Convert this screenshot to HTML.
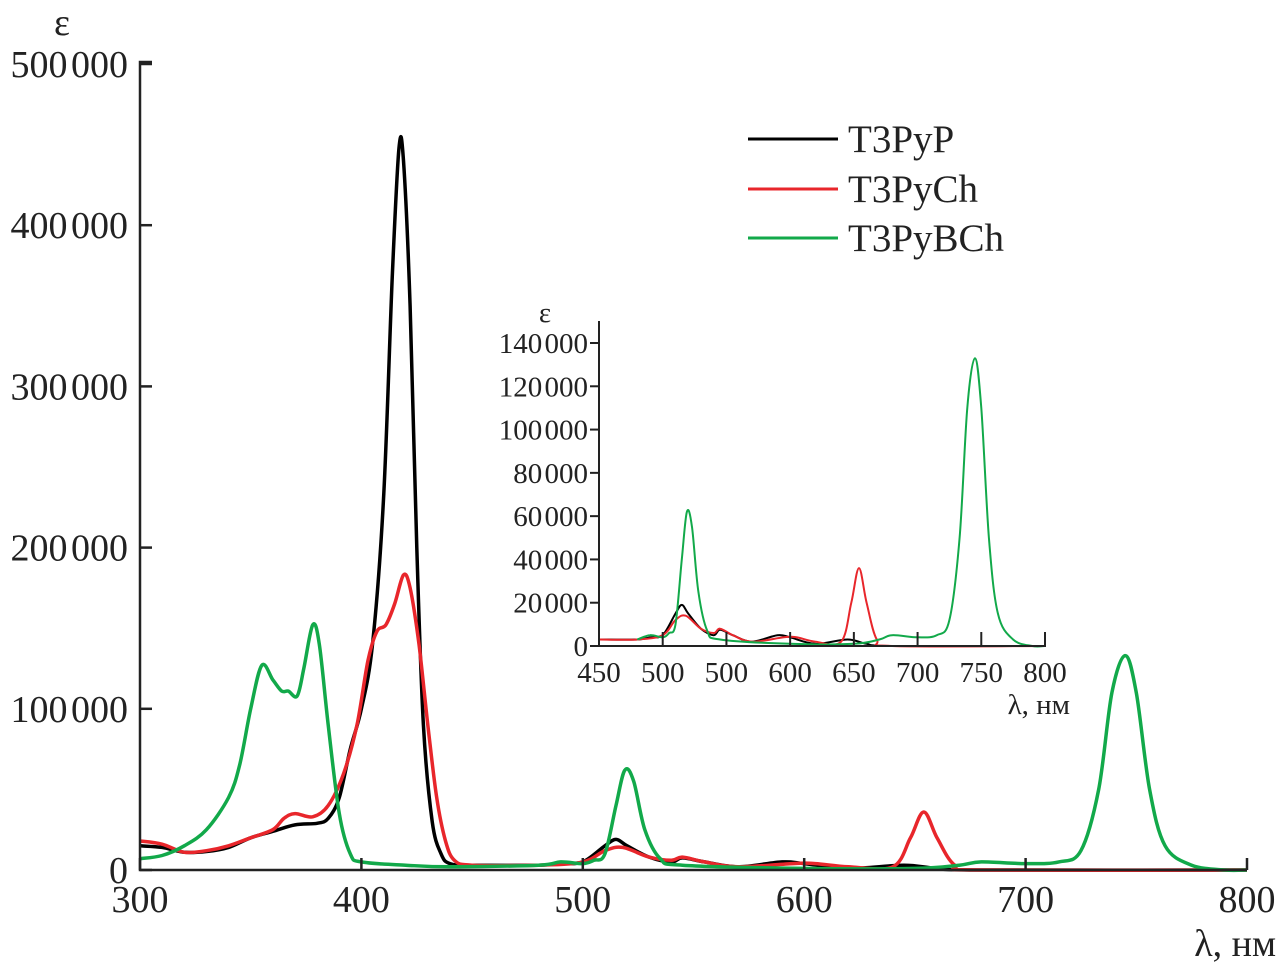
<!DOCTYPE html>
<html><head><meta charset="utf-8"><style>
body{margin:0;background:#fff}
svg{display:block;font-family:"Liberation Serif",serif}
</style></head><body>
<svg width="1278" height="968" viewBox="0 0 1278 968">
<g id="main"></g>
<g id="inset"></g>
<g font-size="39" fill="#222">
<g><line x1="748" y1="139" x2="838" y2="139" stroke="#000" stroke-width="3"/><text x="848" y="152">T3PyP</text></g>
<g><line x1="748" y1="189" x2="838" y2="189" stroke="#e8262b" stroke-width="3"/><text x="848" y="202">T3PyCh</text></g>
<g><line x1="748" y1="238" x2="838" y2="238" stroke="#12a94a" stroke-width="3"/><text x="848" y="251">T3PyBCh</text></g>
</g>
</svg>
<script>
const blackX=[300,310,320,330,340,350,360,370,380,385,390,395,400,405,410,414,417,419,422,425,428,432,436,440,450,480,490,500,510,515,520,530,540,545,555,570,590,600,620,645,660,680,800];
const blackY=[15000,14000,11000,11500,14000,20000,24000,28000,29000,32000,45000,75000,100000,140000,230000,370000,448000,440000,350000,200000,90000,30000,10000,4000,3000,3000,4000,5000,15000,19000,15000,8000,5000,7500,5000,2000,5000,4000,1000,3000,1000,0,0];
const redX=[300,310,320,330,340,350,360,365,370,378,385,392,398,403,407,411,415,419,422,426,430,434,438,442,450,480,500,510,518,530,540,545,555,570,595,605,620,640,648,654,660,668,680,800];
const redY=[18000,16000,11000,12000,15000,20000,25000,32000,35000,33000,40000,60000,90000,130000,148000,152000,165000,183000,175000,140000,90000,45000,18000,6000,3000,3000,5000,12000,14000,8000,6000,8000,5000,2000,4000,4000,2000,2000,20000,36000,20000,3000,0,0];
const greenX=[300,310,320,330,340,345,350,355,360,364,367,371,374,378,381,385,390,395,400,420,440,480,490,500,505,510,515,519,523,528,535,545,600,650,670,680,700,715,725,733,739,745,750,756,763,775,790,800];
const greenY=[7000,9000,15000,25000,45000,65000,100000,127000,118000,111000,111000,108000,125000,152000,140000,90000,35000,10000,5000,3000,2000,3000,5000,4000,6000,10000,40000,62000,55000,25000,7000,3000,1000,1000,3000,5000,4000,5000,12000,50000,110000,133000,110000,50000,15000,3000,0,0];
const mainYTicks=[0,100000,200000,300000,400000,500000];
const mainYLabels=["0","100 000","200 000","300 000","400 000","500 000"];
const mainXTicks=[300,400,500,600,700,800];
const insetYTicks=[0,20000,40000,60000,80000,100000,120000,140000];
const insetYLabels=["0","20 000","40 000","60 000","80 000","100 000","120 000","140 000"];
const insetXTicks=[450,500,550,600,650,700,750,800];
const insetXLabels=["450","500","500","600","650","700","750","800"];

const NS="http://www.w3.org/2000/svg";
function mk(parent,tag,attrs,text){const e=document.createElementNS(NS,tag);for(const k in attrs)e.setAttribute(k,attrs[k]);if(text!==undefined)e.textContent=text;parent.appendChild(e);return e;}
function path(xs,ys,sx,sy,xmin){
  let pts=[];for(let i=0;i<xs.length;i++){if(xs[i]>=xmin)pts.push([sx(xs[i]),sy(ys[i])]);}
  let d="M"+pts[0][0].toFixed(1)+","+pts[0][1].toFixed(1);
  for(let i=0;i<pts.length-1;i++){
    const p0=pts[Math.max(0,i-1)],p1=pts[i],p2=pts[i+1],p3=pts[Math.min(pts.length-1,i+2)];
    const c1=[p1[0]+(p2[0]-p0[0])/6,p1[1]+(p2[1]-p0[1])/6],c2=[p2[0]-(p3[0]-p1[0])/6,p2[1]-(p3[1]-p1[1])/6];
    d+=" C"+c1[0].toFixed(1)+","+c1[1].toFixed(1)+" "+c2[0].toFixed(1)+","+c2[1].toFixed(1)+" "+p2[0].toFixed(1)+","+p2[1].toFixed(1);
  }
  return d;
}
const M=document.getElementById('main');
const mx=v=>140+(v-300)*(1107/500), my=v=>870-v*(806/500000);
const series=[[blackX,blackY,"#000","series-t3pyp"],[redX,redY,"#e8262b","series-t3pych"],[greenX,greenY,"#12a94a","series-t3pybch"]];
series.forEach(s=>{const p=mk(M,'path',{d:path(s[0],s[1],mx,my,300),fill:'none',stroke:s[2],'stroke-width':3.5,'stroke-linejoin':'round'});

});
let ax=mk(M,'path',{d:"M152,62 H140 V870 H1247",fill:'none',stroke:'#222','stroke-width':2.5});


mainYTicks.forEach((t,i)=>{mk(M,'line',{x1:140,x2:152,y1:my(t),y2:my(t),stroke:'#222','stroke-width':2.5});
const tx=mk(M,'text',{x:128,y:my(t)+13,'text-anchor':'end','font-size':38,'word-spacing':-6,fill:'#222'},mainYLabels[i]);

});
mainXTicks.forEach(t=>{mk(M,'line',{x1:mx(t),x2:mx(t),y1:870,y2:858,stroke:'#222','stroke-width':2.5});
const tx=mk(M,'text',{x:mx(t),y:912,'text-anchor':'middle','font-size':38,fill:'#222'},String(t));

});
let t1=mk(M,'text',{x:62,y:35,'text-anchor':'middle','font-size':38,fill:'#222'},"ε");


let t2=mk(M,'text',{x:1276,y:956,'text-anchor':'end','font-size':38,fill:'#222'},"λ, нм");


const I=document.getElementById('inset');
const ix=v=>599+(v-450)*(446/350), iy=v=>646-v*(303/140000);
series.forEach(s=>{const p=mk(I,'path',{d:path(s[0],s[1],ix,iy,450),fill:'none',stroke:s[2],'stroke-width':2,'stroke-linejoin':'round'});

});
let ia=mk(I,'path',{d:"M599,321 V646 H1046",fill:'none',stroke:'#222','stroke-width':2});


insetYTicks.forEach((t,i)=>{mk(I,'line',{x1:599,x2:590,y1:iy(t),y2:iy(t),stroke:'#222','stroke-width':2});
const tx=mk(I,'text',{x:588,y:iy(t)+10,'text-anchor':'end','font-size':29,'word-spacing':-5,fill:'#222'},insetYLabels[i]);

});
insetXTicks.forEach((t,i)=>{mk(I,'line',{x1:ix(t),x2:ix(t),y1:646,y2:632,stroke:'#222','stroke-width':2});
const tx=mk(I,'text',{x:ix(t),y:682,'text-anchor':'middle','font-size':29,fill:'#222'},insetXLabels[i]);

});
let t3=mk(I,'text',{x:545,y:322,'text-anchor':'middle','font-size':29,fill:'#222'},"ε");


let t4=mk(I,'text',{x:1070,y:714,'text-anchor':'end','font-size':29,fill:'#222'},"λ, нм");


</script>
</body></html>
